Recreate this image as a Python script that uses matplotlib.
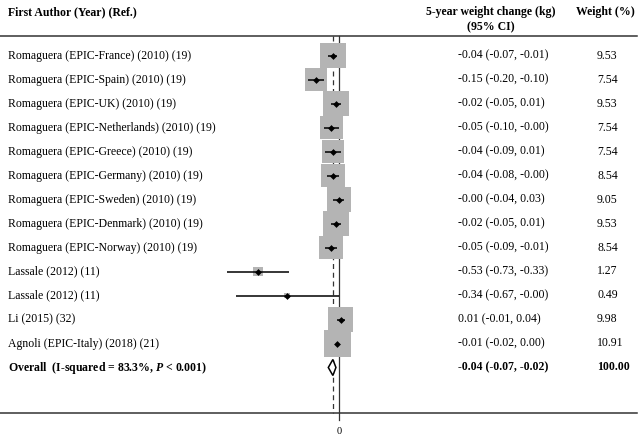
import numpy as np
import matplotlib
matplotlib.use("Agg")
import matplotlib.pyplot as plt

plt.rcParams['font.family'] = ['Liberation Serif', 'DejaVu Serif']
plt.rcParams['mathtext.fontset'] = 'custom'
plt.rcParams['mathtext.it'] = 'Liberation Serif:italic:bold'
plt.rcParams['mathtext.rm'] = 'Liberation Serif:bold'

studies = ['Romaguera (EPIC-France) (2010) (19)',
           'Romaguera (EPIC-Spain) (2010) (19)',
           'Romaguera (EPIC-UK) (2010) (19)',
           'Romaguera (EPIC-Netherlands) (2010) (19)',
           'Romaguera (EPIC-Greece) (2010) (19)',
           'Romaguera (EPIC-Germany) (2010) (19)',
           'Romaguera (EPIC-Sweden) (2010) (19)',
           'Romaguera (EPIC-Denmark) (2010) (19)',
           'Romaguera (EPIC-Norway) (2010) (19)',
           'Lassale (2012) (11)',
           'Lassale (2012) (11)',
           'Li (2015) (32)',
           'Agnoli (EPIC-Italy) (2018) (21)']
est = [-0.04, -0.15, -0.02, -0.05, -0.04, -0.04, -0.00, -0.02, -0.05, -0.53, -0.34, 0.01, -0.01]
lo = [-0.07, -0.20, -0.05, -0.10, -0.09, -0.08, -0.04, -0.05, -0.09, -0.73, -0.67, -0.01, -0.02]
hi = [-0.01, -0.10, 0.01, -0.00, 0.01, -0.00, 0.03, 0.01, -0.01, -0.33, -0.00, 0.04, 0.00]
weights = [9.53, 7.54, 9.53, 7.54, 7.54, 8.54, 9.05, 9.53, 8.54, 1.27, 0.49, 9.98, 10.91]

overall_label = 'Overall  (I-squared = 83.3%, $\\mathit{P}$ < 0.001)'
overall_est, overall_lo, overall_hi = -0.04, -0.07, -0.02
overall_weight = 100.00

W, H = 640, 437
fig = plt.figure(figsize=(W / 100, H / 100), dpi=100)
ax = fig.add_axes([0, 0, 1, 1])
ax.axis('off')

# x: zero at 339 px, 153 px per kg ; y: row 0 at 55.5 px, 24 px per row
ax.set_xlim(-339 / 153, (W - 339) / 153)
ax.set_ylim((H - 55.5) / 24, -55.5 / 24)

def py(p):
    return (p - 55.5) / 24

rows = np.arange(len(studies))
n = len(studies)

# reference lines
ax.plot([0, 0], [py(36), py(420)], color='#333333', lw=0.9, zorder=1)
ax.plot([overall_est, overall_est], [py(36), py(413)], color='#333333', lw=0.9,
        ls=(0, (4, 3)), zorder=1)

# boxes, CIs, points
ax.scatter(est, rows, s=np.array(weights) * 34.9, marker='s', color='#b4b4b4',
           linewidths=0, zorder=2)
ax.hlines(rows, lo, hi, color='black', lw=1.1, zorder=3)
ax.scatter(est, rows, s=12, marker='D', color='black', linewidths=0, zorder=4)

# overall diamond
dh = 8 / 24
ax.fill([overall_lo, overall_est, overall_hi, overall_est],
        [n, n - dh, n, n + dh], facecolor='white', edgecolor='black', lw=1.1, zorder=4)

# horizontal rules
ytr = ax.get_yaxis_transform()
ax.plot([0, 0.996], [py(36), py(36)], color='#333333', lw=1.1, transform=ytr, clip_on=False)
ax.plot([0, 0.996], [py(413), py(413)], color='#333333', lw=1.1, transform=ytr, clip_on=False)
ax.text(0, py(431), '0', ha='center', va='center', fontsize=7.5)

fs = 8.5
# headers
ax.text(8 / W, py(12), 'First Author (Year) (Ref.)', transform=ytr, fontsize=fs,
        fontweight='bold', va='center', ha='left')
ax.text(491 / W, py(12), '5-year weight change (kg)', transform=ytr, fontsize=fs,
        fontweight='bold', va='center', ha='center')
ax.text(491 / W, py(27), '(95% CI)', transform=ytr, fontsize=fs,
        fontweight='bold', va='center', ha='center')
ax.text(605 / W, py(12), 'Weight (%)', transform=ytr, fontsize=fs,
        fontweight='bold', va='center', ha='center')

for i in range(n):
    ax.text(8 / W, i, studies[i], transform=ytr, fontsize=fs, va='center', ha='left')
    ax.text(458 / W, i, '%.2f (%.2f, %.2f)' % (est[i], lo[i], hi[i]),
            transform=ytr, fontsize=fs, va='center', ha='left')
    ax.text(597 / W, i, '%.2f' % weights[i], transform=ytr, fontsize=fs,
            va='center', ha='left')

ax.text(8 / W, n, overall_label, transform=ytr, fontsize=fs, fontweight='bold',
        va='center', ha='left')
ax.text(458 / W, n, '%.2f (%.2f, %.2f)' % (overall_est, overall_lo, overall_hi),
        transform=ytr, fontsize=fs, fontweight='bold', va='center', ha='left')
ax.text(597 / W, n, '%.2f' % overall_weight, transform=ytr, fontsize=fs,
        fontweight='bold', va='center', ha='left')

fig.savefig('out.png', dpi=100)
